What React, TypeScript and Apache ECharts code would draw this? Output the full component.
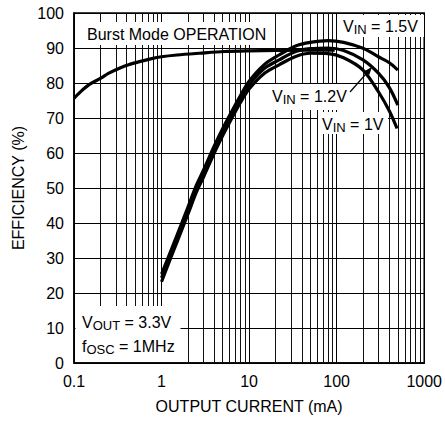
import React, { useEffect, useRef } from "react";
import * as echarts from "echarts";

const FONT = '"Liberation Sans", Arial, Helvetica, sans-serif';

// Axis ticks
const xTickLabels = ["0.1", "1", "10", "100", "1000"];
const xMinorLines = [
  0.2, 0.3, 0.4, 0.5, 0.6, 0.7, 0.8, 0.9,
  2, 3, 4, 5, 6, 7, 8, 9,
  20, 30, 40, 50, 60, 70, 80, 90,
  200, 300, 400, 500, 600, 700, 800, 900,
];

// Burst Mode operation curve
const burstX = [0.1, 0.12, 0.15, 0.2, 0.25, 0.33, 0.42, 0.56, 0.75, 1, 1.5, 2.7, 5.2, 10, 20, 40, 95];
const burstY = [75.6, 77.6, 79.6, 81.3, 82.8, 84.2, 85.2, 86.1, 86.9, 87.5, 88.0, 88.5, 89.0, 89.2, 89.3, 89.4, 89.4];

// VIN curves
const vinX = [1, 1.25, 1.5, 2, 2.5, 3, 4, 5, 6, 8, 10, 15, 22, 34, 50, 80, 120, 200, 300, 400, 500];
const vin15Y = [25.4, 31.5, 36.5, 44.5, 50.8, 55, 62, 67, 70.8, 76.5, 80.5, 85.3, 88, 90.6, 91.6, 92.1, 91.6, 89.9, 87.5, 85.8, 83.7];
const vin12Y = [24.3, 30.5, 35.5, 43.5, 49.8, 54, 61, 66, 69.8, 75.5, 79.5, 84.2, 86.6, 89, 89.8, 90, 89.3, 86.6, 82.8, 78.7, 73.7];
const vin1X = [1, 1.25, 1.5, 2, 2.5, 3, 4, 5, 6, 8, 10, 15, 22, 34, 50, 80, 120, 200, 300, 400, 490];
const vin1Y = [23.2, 29.5, 34.5, 42.5, 48.8, 53, 60, 65, 68.8, 74.5, 78.3, 82.8, 85.2, 87.6, 88.5, 88.4, 87.2, 83.7, 77.5, 72, 67];

const zip = (xs: number[], ys: number[]) => xs.map((x, i) => [x, ys[i]]);

const richStyle = {
  v: { fontSize: 16, fontFamily: FONT, fill: "#000", lineHeight: 20 },
  s: { fontSize: 13, fontFamily: FONT, fill: "#000", lineHeight: 13, padding: [6, 0, 0, 0] },
};

function label(text: string, x: number, y: number) {
  return {
    type: "text",
    x,
    y,
    z: 2,
    z2: 10,
    style: {
      text,
      rich: richStyle,
      align: "left",
      verticalAlign: "middle",
      fill: "#000",
      fontSize: 16,
      fontFamily: FONT,
    },
  };
}

function box(x: number, y: number, w: number, h: number) {
  return { type: "rect", z: 2, z2: 1, shape: { x, y, width: w, height: h }, style: { fill: "#fff" } };
}

export default function App() {
  const ref = useRef<HTMLDivElement>(null);
  useEffect(() => {
    if (!ref.current) return;
    const chart = echarts.init(ref.current, undefined, { renderer: "svg" });
    const curve = (name: string, data: number[][]) => ({
      name,
      type: "line",
      data,
      z: 3,
      smooth: 0.3,
      symbol: "none",
      lineStyle: { color: "#000", width: 3.2 },
      silent: true,
    });
    chart.setOption({
      animation: false,
      backgroundColor: "#fff",
      grid: {
        left: 74,
        right: 19,
        top: 13,
        bottom: 60,
        show: true,
        borderColor: "#000",
        borderWidth: 1.5,
        backgroundColor: "#fff",
      },
      xAxis: {
        type: "log",
        logBase: 10,
        min: 0.1,
        max: 1000,
        name: "OUTPUT CURRENT (mA)",
        nameLocation: "middle",
        nameGap: 35,
        nameTextStyle: { fontSize: 16, fontFamily: FONT, color: "#000" },
        axisLine: { show: true, lineStyle: { color: "#000", width: 1.5 } },
        axisTick: { show: false },
        axisLabel: {
          fontSize: 16,
          fontFamily: FONT,
          color: "#000",
          margin: 10,
          formatter: (v: number) => {
            const i = Math.round(Math.log10(v)) + 1;
            return xTickLabels[i] ?? "";
          },
        },
        splitLine: { show: true, lineStyle: { color: "#000", width: 1 } },
      },
      yAxis: {
        type: "value",
        min: 0,
        max: 100,
        interval: 10,
        name: "EFFICIENCY (%)",
        nameLocation: "middle",
        nameGap: 48,
        nameTextStyle: { fontSize: 16, fontFamily: FONT, color: "#000" },
        axisLine: { show: true, lineStyle: { color: "#000", width: 1.5 } },
        axisTick: { show: false },
        axisLabel: { fontSize: 16, fontFamily: FONT, color: "#000", margin: 10 },
        splitLine: { show: true, lineStyle: { color: "#000", width: 1 } },
      },
      series: [
        {
          type: "line",
          data: [],
          z: 1,
          silent: true,
          markLine: {
            z: 1,
            silent: true,
            symbol: ["none", "none"],
            label: { show: false },
            animation: false,
            lineStyle: { color: "#111", width: 1, type: "solid" },
            data: xMinorLines.map((v) => ({ xAxis: v })),
          },
        },
        curve("Burst", zip(burstX, burstY)),
        curve("VIN=1.5V", zip(vinX, vin15Y)),
        curve("VIN=1.2V", zip(vinX, vin12Y)),
        curve("VIN=1V", zip(vin1X, vin1Y)),
      ],
      graphic: {
        z: 2,
        elements: [
          box(80, 22, 192, 23),
          box(339, 15, 85, 22),
          box(267, 84, 84, 26),
          box(318, 112, 70, 22),
          box(75.5, 306, 105, 56),
          {
            type: "text",
            x: 87,
            y: 34,
            z: 2,
            z2: 10,
            style: { text: "Burst Mode OPERATION", fontSize: 16, fontFamily: FONT, fill: "#000", align: "left", verticalAlign: "middle" },
          },
          label("{v|V}{s|IN}{v| = 1.5V}", 343, 26),
          label("{v|V}{s|IN}{v| = 1.2V}", 272, 96),
          label("{v|V}{s|IN}{v| = 1V}", 322, 124),
          label("{v|V}{s|OUT}{v| = 3.3V}", 82, 322),
          label("{v|f}{s|OSC}{v| = 1MHz}", 82, 346),
          {
            type: "line",
            z: 5,
            shape: { x1: 350, y1: 92, x2: 369, y2: 70.5 },
            style: { stroke: "#000", lineWidth: 1.2 },
          },
          {
            type: "polygon",
            z: 5,
            shape: { points: [[372, 67], [369.2, 75], [364.6, 71]] },
            style: { fill: "#000" },
          },
        ],
      },
    });
    return () => chart.dispose();
  }, []);
  return <div ref={ref} style={{ position: "absolute", left: 0, top: 0, width: 445, height: 423 }} />;
}
